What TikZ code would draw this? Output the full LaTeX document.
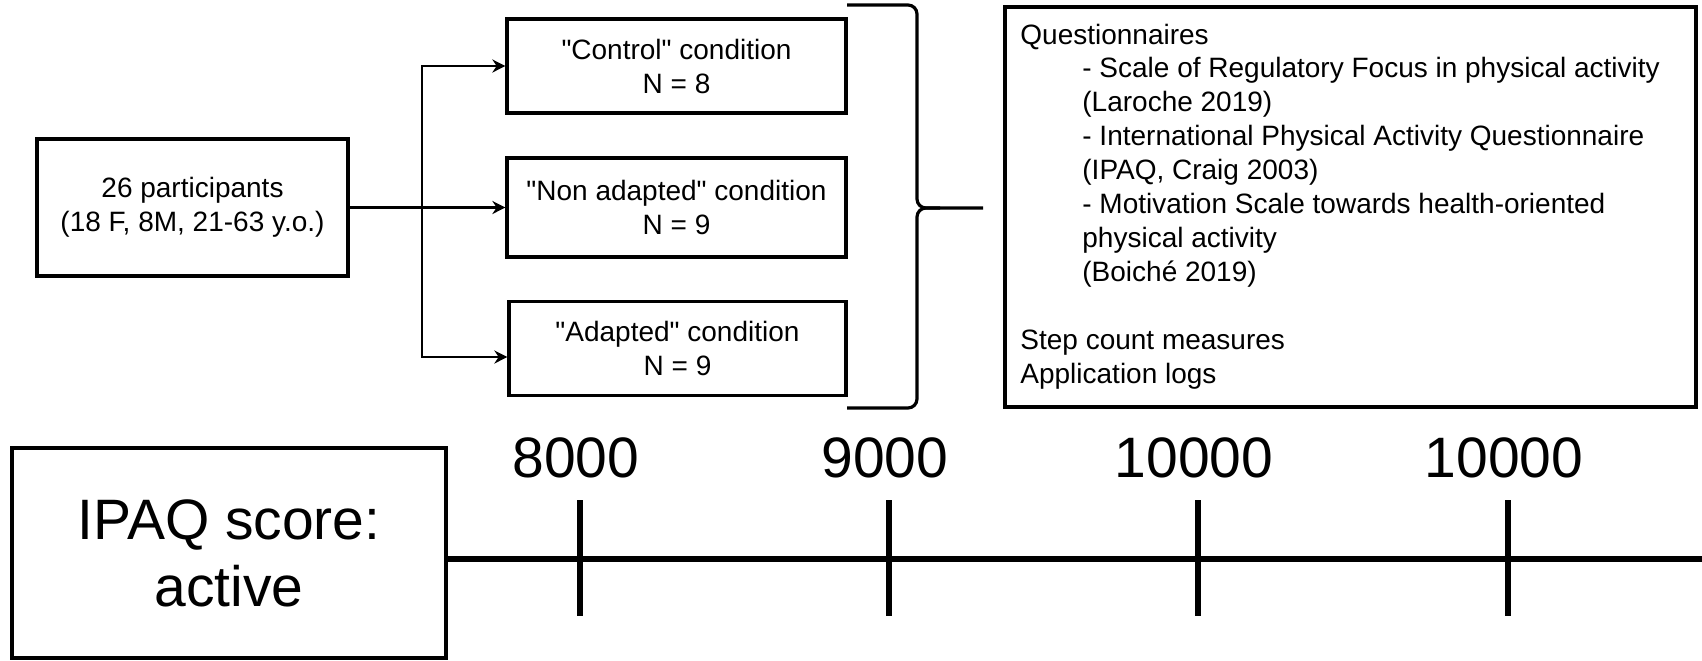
\documentclass[tikz,border=0pt]{standalone}
\usepackage{fontspec}
\setmainfont{Liberation Sans}[Ligatures=TeXOff]
\usetikzlibrary{arrows.meta}

\newcommand{\txtsmall}{\fontsize{14pt}{17pt}\selectfont}
\newcommand{\txtbig}{\fontsize{28.5pt}{33.5pt}\selectfont}

\begin{document}
\begin{tikzpicture}[x=0.5pt,y=-0.5pt,
  box/.style={draw,line width=1.6pt,align=center,font=\txtsmall,inner sep=0pt},
  conn/.style={line width=1.4pt,-{Stealth[length=6.5pt,width=6.5pt]}},
  tickline/.style={line width=3pt},
  num/.style={font=\txtbig,anchor=base,inner sep=0pt}]
\useasboundingbox (0,0) rectangle (1702,660);

% participants and the three groups
\node[box,minimum width=155.5pt,minimum height=68.5pt] (part) at (192.5,207.5) {26 participants\\(18 F, 8M, 21-63 y.o.)};
\node[box,minimum width=169.5pt,minimum height=47pt] (ctrl) at (676.5,66) {"Control" condition\\N = 8};
\node[box,minimum width=169.5pt,minimum height=49.5pt] (nonad) at (676.5,207.5) {"Non adapted" condition\\N = 9};
\node[box,minimum width=168.5pt,minimum height=47pt] (adapt) at (677.5,348.5) {"Adapted" condition\\N = 9};

% the arrows to the groups
\coordinate (split) at (422,207.5);
\draw[conn] (part.east) -- (nonad.west);
\draw[conn] (split) |- (ctrl.west);
\draw[conn] (split) |- ([yshift=-4.25pt]adapt.west);

% the brace
\coordinate (brtip) at (983,208);
\draw[line width=1.6pt,rounded corners=4.5pt] (847,5) -- (917,5) -- (917,208) -- (brtip);
\draw[line width=1.6pt,rounded corners=4.5pt] (847,408) -- (917,408) -- (917,208) -- (940,208);

% the measures box and its lines
\node[draw,line width=1.6pt,minimum width=345.5pt,minimum height=200pt,inner sep=0pt] (meas) at (1350.5,207) {};
\foreach \i/\xx/\txt in {0/1020/Questionnaires,
  1/1082/{- Scale of Regulatory Focus in physical activity},
  2/1082/{(Laroche 2019)},
  3/1082/{- International Physical Activity Questionnaire},
  4/1082/{(IPAQ, Craig 2003)},
  5/1082/{- Motivation Scale towards health-oriented},
  6/1082/{physical activity},
  7/1082/{(Boiché 2019)},
  9/1020/{Step count measures},
  10/1020/{Application logs}}
  \node[font=\txtsmall,anchor=base west,inner sep=0pt] (q\i) at (\xx,44+33.9*\i) {\txt};

% the timeline
\node[draw,line width=2.4pt,minimum width=217pt,minimum height=105pt,align=center,font=\txtbig,inner sep=0pt] (ipaq) at (229,553) {IPAQ score:\\active};
\coordinate (tlend) at (1702,559);
\draw[line width=2.6pt] (ipaq.east |- tlend) -- (tlend);
\foreach \n/\xx/\val in {1/580/8000, 2/889/9000, 3/1198/10000, 4/1508/10000}
{
  \draw[tickline] (\xx,500) -- (\xx,616) coordinate (t\n);
  \node[num] (v\n) at (\xx-4,477) {\val};
}
\end{tikzpicture}
\end{document}
